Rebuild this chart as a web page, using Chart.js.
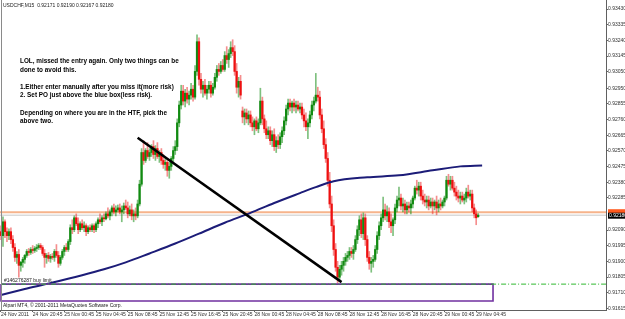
<!DOCTYPE html>
<html>
<head>
<meta charset="utf-8">
<script src="https://cdn.jsdelivr.net/npm/chart.js@4.4.0/dist/chart.umd.min.js"></script>
<style>
  html, body { margin: 0; padding: 0; background: #fff; }
  #chart { display: block; }
</style>
</head>
<body>
<canvas id="chart" width="625" height="319"></canvas>
<script>
// USDCHF M15 candles, one entry per bar
const openPrices = [
  0.92080, 0.92056, 0.92140, 0.92080, 0.92056, 0.92080, 0.92032, 0.91984, 0.91924, 0.91942,
  0.91876, 0.91894, 0.91912, 0.91936, 0.91960, 0.91954, 0.91972, 0.91966, 0.91978, 0.91984,
  0.91996, 0.91984, 0.91948, 0.91924, 0.91936, 0.91918, 0.91930, 0.91924, 0.91960, 0.91936,
  0.91888, 0.91924, 0.91960, 0.91984, 0.91972, 0.92020, 0.92104, 0.92092, 0.92164, 0.92128,
  0.92092, 0.92128, 0.92104, 0.92116, 0.92080, 0.92104, 0.92092, 0.92116, 0.92092, 0.92128,
  0.92152, 0.92140, 0.92164, 0.92158, 0.92188, 0.92176, 0.92200, 0.92224, 0.92200, 0.92212,
  0.92224, 0.92200, 0.92212, 0.92236, 0.92224, 0.92188, 0.92212, 0.92176, 0.92188, 0.92176,
  0.92248, 0.92368, 0.92560, 0.92512, 0.92572, 0.92536, 0.92560, 0.92596, 0.92548, 0.92584,
  0.92536, 0.92560, 0.92512, 0.92488, 0.92500, 0.92452, 0.92476, 0.92524, 0.92572, 0.92596,
  0.92740, 0.92848, 0.92932, 0.92872, 0.92920, 0.92884, 0.92908, 0.92944, 0.92896, 0.93052,
  0.93232, 0.93004, 0.92944, 0.92968, 0.92920, 0.92944, 0.92968, 0.92920, 0.92956, 0.93016,
  0.93064, 0.93052, 0.93088, 0.93064, 0.93148, 0.93124, 0.93160, 0.93196, 0.93172, 0.93052,
  0.92956, 0.92992, 0.92812, 0.92776, 0.92800, 0.92764, 0.92788, 0.92740, 0.92716, 0.92752,
  0.92704, 0.92740, 0.92872, 0.92764, 0.92704, 0.92668, 0.92692, 0.92632, 0.92668, 0.92596,
  0.92632, 0.92608, 0.92656, 0.92692, 0.92752, 0.92824, 0.92860, 0.92836, 0.92860, 0.92836,
  0.92848, 0.92824, 0.92836, 0.92788, 0.92752, 0.92716, 0.92740, 0.92788, 0.92848, 0.92872,
  0.92908, 0.92896, 0.92788, 0.92704, 0.92608, 0.92524, 0.92392, 0.92248, 0.92116, 0.91972,
  0.91864, 0.91804, 0.91852, 0.91876, 0.91900, 0.91924, 0.91936, 0.91960, 0.91948, 0.91972,
  0.92032, 0.92092, 0.92152, 0.92068, 0.92164, 0.92032, 0.91924, 0.91888, 0.91900, 0.91912,
  0.91972, 0.92056, 0.92116, 0.92164, 0.92212, 0.92176, 0.92200, 0.92140, 0.92116, 0.92152,
  0.92224, 0.92272, 0.92284, 0.92236, 0.92248, 0.92212, 0.92236, 0.92224, 0.92248, 0.92284,
  0.92344, 0.92332, 0.92356, 0.92296, 0.92272, 0.92260, 0.92272, 0.92236, 0.92260, 0.92236,
  0.92260, 0.92224, 0.92248, 0.92236, 0.92260, 0.92284, 0.92392, 0.92368, 0.92392, 0.92344,
  0.92320, 0.92296, 0.92284, 0.92296, 0.92272, 0.92284, 0.92320, 0.92296, 0.92308, 0.92224,
  0.92188, 0.92171
];
const highPrices = [
  0.92116, 0.92170, 0.92152, 0.92104, 0.92098, 0.92104, 0.92056, 0.92008, 0.91960, 0.91972,
  0.91900, 0.91924, 0.91942, 0.91972, 0.91978, 0.91984, 0.91996, 0.91990, 0.92002, 0.92008,
  0.92008, 0.91996, 0.91972, 0.91948, 0.91954, 0.91942, 0.91948, 0.91972, 0.92002, 0.91960,
  0.91936, 0.91972, 0.91996, 0.92008, 0.92032, 0.92122, 0.92152, 0.92176, 0.92188, 0.92164,
  0.92140, 0.92152, 0.92140, 0.92128, 0.92116, 0.92122, 0.92128, 0.92128, 0.92140, 0.92164,
  0.92188, 0.92176, 0.92188, 0.92200, 0.92224, 0.92212, 0.92236, 0.92248, 0.92236, 0.92242,
  0.92248, 0.92236, 0.92254, 0.92272, 0.92260, 0.92236, 0.92248, 0.92212, 0.92224, 0.92272,
  0.92392, 0.92584, 0.92632, 0.92584, 0.92620, 0.92584, 0.92608, 0.92632, 0.92602, 0.92620,
  0.92572, 0.92584, 0.92548, 0.92524, 0.92512, 0.92500, 0.92536, 0.92596, 0.92632, 0.92764,
  0.92872, 0.92968, 0.92968, 0.92944, 0.92956, 0.92932, 0.92980, 0.92968, 0.93088, 0.93274,
  0.93256, 0.93040, 0.92992, 0.93004, 0.92968, 0.92992, 0.92992, 0.92980, 0.93040, 0.93088,
  0.93100, 0.93112, 0.93124, 0.93172, 0.93202, 0.93184, 0.93232, 0.93244, 0.93208, 0.93100,
  0.93016, 0.93028, 0.92836, 0.92824, 0.92824, 0.92812, 0.92812, 0.92776, 0.92764, 0.92776,
  0.92764, 0.92950, 0.92896, 0.92788, 0.92752, 0.92716, 0.92716, 0.92692, 0.92704, 0.92656,
  0.92668, 0.92680, 0.92716, 0.92776, 0.92848, 0.92884, 0.92884, 0.92872, 0.92884, 0.92872,
  0.92872, 0.92860, 0.92860, 0.92824, 0.92800, 0.92764, 0.92812, 0.92872, 0.92896, 0.93040,
  0.92956, 0.92932, 0.92824, 0.92752, 0.92644, 0.92560, 0.92440, 0.92296, 0.92152, 0.92008,
  0.91900, 0.91876, 0.91900, 0.91924, 0.91948, 0.91960, 0.91984, 0.91984, 0.91996, 0.92056,
  0.92116, 0.92176, 0.92188, 0.92194, 0.92188, 0.92056, 0.91960, 0.91924, 0.91936, 0.91996,
  0.92080, 0.92140, 0.92188, 0.92290, 0.92248, 0.92236, 0.92224, 0.92188, 0.92164, 0.92248,
  0.92296, 0.92350, 0.92308, 0.92284, 0.92272, 0.92260, 0.92260, 0.92272, 0.92296, 0.92356,
  0.92392, 0.92380, 0.92380, 0.92332, 0.92308, 0.92296, 0.92296, 0.92284, 0.92284, 0.92272,
  0.92296, 0.92272, 0.92284, 0.92272, 0.92296, 0.92416, 0.92428, 0.92416, 0.92416, 0.92380,
  0.92356, 0.92332, 0.92320, 0.92320, 0.92308, 0.92344, 0.92362, 0.92332, 0.92332, 0.92248,
  0.92212, 0.92190
];
const lowPrices = [
  0.92032, 0.91990, 0.92044, 0.92020, 0.92032, 0.92008, 0.91960, 0.91900, 0.91888, 0.91804,
  0.91840, 0.91864, 0.91888, 0.91924, 0.91936, 0.91942, 0.91948, 0.91954, 0.91960, 0.91972,
  0.91972, 0.91936, 0.91864, 0.91888, 0.91900, 0.91894, 0.91912, 0.91900, 0.91924, 0.91864,
  0.91876, 0.91912, 0.91936, 0.91960, 0.91960, 0.92002, 0.92068, 0.92080, 0.92116, 0.92068,
  0.92080, 0.92092, 0.92080, 0.92056, 0.92068, 0.92080, 0.92080, 0.92074, 0.92080, 0.92104,
  0.92128, 0.92116, 0.92140, 0.92152, 0.92164, 0.92152, 0.92176, 0.92188, 0.92176, 0.92200,
  0.92188, 0.92140, 0.92188, 0.92212, 0.92164, 0.92176, 0.92152, 0.92140, 0.92152, 0.92164,
  0.92236, 0.92356, 0.92488, 0.92500, 0.92524, 0.92512, 0.92536, 0.92524, 0.92512, 0.92524,
  0.92500, 0.92488, 0.92464, 0.92452, 0.92416, 0.92404, 0.92452, 0.92500, 0.92548, 0.92572,
  0.92716, 0.92824, 0.92848, 0.92836, 0.92860, 0.92848, 0.92884, 0.92872, 0.92884, 0.93028,
  0.92968, 0.92920, 0.92896, 0.92908, 0.92884, 0.92920, 0.92896, 0.92908, 0.92944, 0.92992,
  0.93028, 0.93040, 0.93052, 0.93052, 0.93100, 0.93076, 0.93136, 0.93148, 0.93028, 0.92920,
  0.92896, 0.92884, 0.92740, 0.92728, 0.92740, 0.92728, 0.92716, 0.92692, 0.92668, 0.92692,
  0.92680, 0.92728, 0.92728, 0.92680, 0.92644, 0.92644, 0.92608, 0.92596, 0.92572, 0.92560,
  0.92584, 0.92584, 0.92620, 0.92668, 0.92728, 0.92788, 0.92812, 0.92800, 0.92812, 0.92800,
  0.92812, 0.92800, 0.92764, 0.92716, 0.92692, 0.92644, 0.92716, 0.92764, 0.92812, 0.92860,
  0.92872, 0.92764, 0.92680, 0.92584, 0.92500, 0.92356, 0.92224, 0.92080, 0.91936, 0.91840,
  0.91768, 0.91780, 0.91816, 0.91840, 0.91876, 0.91900, 0.91912, 0.91924, 0.91912, 0.91960,
  0.92008, 0.92056, 0.92044, 0.92032, 0.91996, 0.91900, 0.91852, 0.91834, 0.91864, 0.91900,
  0.91948, 0.92032, 0.92092, 0.92140, 0.92152, 0.92140, 0.92104, 0.92074, 0.92056, 0.92128,
  0.92200, 0.92236, 0.92212, 0.92200, 0.92188, 0.92188, 0.92200, 0.92188, 0.92224, 0.92272,
  0.92308, 0.92296, 0.92272, 0.92248, 0.92236, 0.92224, 0.92212, 0.92224, 0.92188, 0.92212,
  0.92182, 0.92200, 0.92212, 0.92224, 0.92236, 0.92272, 0.92356, 0.92332, 0.92332, 0.92296,
  0.92272, 0.92260, 0.92248, 0.92260, 0.92248, 0.92260, 0.92284, 0.92272, 0.92200, 0.92164,
  0.92122, 0.92167
];
const closePrices = [
  0.92056, 0.92140, 0.92080, 0.92056, 0.92080, 0.92032, 0.91984, 0.91924, 0.91942, 0.91876,
  0.91894, 0.91912, 0.91936, 0.91960, 0.91954, 0.91972, 0.91966, 0.91978, 0.91984, 0.91996,
  0.91984, 0.91948, 0.91924, 0.91936, 0.91918, 0.91930, 0.91924, 0.91960, 0.91936, 0.91888,
  0.91924, 0.91960, 0.91984, 0.91972, 0.92020, 0.92104, 0.92092, 0.92164, 0.92128, 0.92092,
  0.92128, 0.92104, 0.92116, 0.92080, 0.92104, 0.92092, 0.92116, 0.92092, 0.92128, 0.92152,
  0.92140, 0.92164, 0.92158, 0.92188, 0.92176, 0.92200, 0.92224, 0.92200, 0.92212, 0.92224,
  0.92200, 0.92212, 0.92236, 0.92224, 0.92188, 0.92212, 0.92176, 0.92188, 0.92176, 0.92248,
  0.92368, 0.92560, 0.92512, 0.92572, 0.92536, 0.92560, 0.92596, 0.92548, 0.92584, 0.92536,
  0.92560, 0.92512, 0.92488, 0.92500, 0.92452, 0.92476, 0.92524, 0.92572, 0.92596, 0.92740,
  0.92848, 0.92932, 0.92872, 0.92920, 0.92884, 0.92908, 0.92944, 0.92896, 0.93052, 0.93232,
  0.93004, 0.92944, 0.92968, 0.92920, 0.92944, 0.92968, 0.92920, 0.92956, 0.93016, 0.93064,
  0.93052, 0.93088, 0.93064, 0.93148, 0.93124, 0.93160, 0.93196, 0.93172, 0.93052, 0.92956,
  0.92992, 0.92908, 0.92776, 0.92800, 0.92764, 0.92788, 0.92740, 0.92716, 0.92752, 0.92704,
  0.92740, 0.92872, 0.92764, 0.92704, 0.92668, 0.92692, 0.92632, 0.92668, 0.92596, 0.92632,
  0.92608, 0.92656, 0.92692, 0.92752, 0.92824, 0.92860, 0.92836, 0.92860, 0.92836, 0.92848,
  0.92824, 0.92836, 0.92788, 0.92752, 0.92716, 0.92740, 0.92788, 0.92848, 0.92872, 0.92908,
  0.92896, 0.92788, 0.92704, 0.92608, 0.92524, 0.92392, 0.92248, 0.92116, 0.91972, 0.91864,
  0.91804, 0.91852, 0.91876, 0.91900, 0.91924, 0.91936, 0.91960, 0.91948, 0.91972, 0.92032,
  0.92092, 0.92152, 0.92068, 0.92164, 0.92032, 0.91924, 0.91888, 0.91900, 0.91912, 0.91972,
  0.92056, 0.92116, 0.92164, 0.92212, 0.92176, 0.92200, 0.92140, 0.92116, 0.92152, 0.92224,
  0.92272, 0.92284, 0.92236, 0.92248, 0.92212, 0.92236, 0.92224, 0.92248, 0.92284, 0.92344,
  0.92332, 0.92356, 0.92296, 0.92272, 0.92260, 0.92272, 0.92236, 0.92260, 0.92236, 0.92260,
  0.92224, 0.92248, 0.92236, 0.92260, 0.92284, 0.92392, 0.92368, 0.92392, 0.92344, 0.92320,
  0.92296, 0.92284, 0.92296, 0.92272, 0.92284, 0.92320, 0.92296, 0.92308, 0.92224, 0.92188,
  0.92164, 0.92180
];

// moving average (navy curve), read at a few bars
const maBars = [0, 12, 25, 52, 63, 75, 88, 100, 113, 126, 138, 151, 159, 168, 185, 201, 218, 232, 243];
const maValues = [0.91696, 0.91732, 0.91768, 0.91852, 0.91894, 0.91948, 0.92008, 0.92068, 0.92134, 0.92194,
                  0.92254, 0.92314, 0.92350, 0.92386, 0.92410, 0.92422, 0.92452, 0.92476, 0.92482];

// hand-drawn black trend line
const trendBars = [69, 172];
const trendValues = [0.92650, 0.91774];

// purple box and the pending order
const boxBars = [0, 248.5];
const boxPrices = [0.91762, 0.91660];
const buyLimitPrice = 0.91762;
const bidPrice = 0.92180;
const askPrice = 0.92198;

// axes
const priceTicks = [0.93430, 0.93335, 0.93240, 0.93145, 0.93050, 0.92950, 0.92855, 0.92760, 0.92665, 0.92570,
                    0.92475, 0.92380, 0.92285, 0.92090, 0.91995, 0.91900, 0.91805, 0.91710, 0.91615];
const timeTickBars = [0, 16, 32, 48, 64, 80, 96, 112, 128, 144, 160, 176, 192, 208, 224, 240];
const timeLabels = ["24 Nov 2011", "24 Nov 20:45", "25 Nov 00:45", "25 Nov 04:45", "25 Nov 08:45", "25 Nov 12:45",
                    "25 Nov 16:45", "25 Nov 20:45", "28 Nov 00:45", "28 Nov 04:45", "28 Nov 08:45", "28 Nov 12:45",
                    "28 Nov 16:45", "28 Nov 20:45", "29 Nov 00:45", "29 Nov 04:45"];

const headerText = "USDCHF,M15  0.92171 0.92190 0.92167 0.92180";
const commentLines = [
  "LOL, missed the entry again. Only two things can be",
  "done to avoid this.",
  "",
  "1.Either enter manually after you miss it(more risk)",
  "2. Set PO just above the blue box(less risk).",
  "",
  "Depending on where you are in the HTF, pick the",
  "above two."
];
const orderLabel = "#146276287 buy limit";
const copyrightText = "Alpari MT4, \u00a9 2001-2011 MetaQuotes Software Corp.";

const isUp = i => closePrices[i] >= openPrices[i];
const FONT = "'Liberation Sans', Arial, sans-serif";

const wickData = lowPrices.map((l, i) => ({ x: i, y: [l, highPrices[i]] }));
const bodyData = openPrices.map((o, i) => ({ x: i, y: [o, closePrices[i]] }));
const maData = maBars.map((b, i) => ({ x: b, y: maValues[i] }));
const trendData = trendBars.map((b, i) => ({ x: b, y: trendValues[i] }));
const boxData = [
  { x: boxBars[0], y: boxPrices[0] }, { x: boxBars[1], y: boxPrices[0] },
  { x: boxBars[1], y: boxPrices[1] }, { x: boxBars[0], y: boxPrices[1] },
  { x: boxBars[0], y: boxPrices[0] }
];
const fullLine = v => [{ x: -5, y: v }, { x: 320, y: v }];

// texts and price tags MT4 puts on the chart
const overlayPlugin = {
  id: 'overlay',
  afterDraw(chart) {
    const ctx = chart.ctx;
    const y = chart.scales.y;
    ctx.save();
    ctx.textBaseline = 'middle';
    ctx.textAlign = 'left';

    // left frame line
    ctx.strokeStyle = '#8a8a8a';
    ctx.lineWidth = 1;
    ctx.beginPath();
    ctx.moveTo(1.5, 0);
    ctx.lineTo(1.5, chart.chartArea.bottom);
    ctx.stroke();

    ctx.fillStyle = '#202020';
    ctx.font = '5px ' + FONT;
    ctx.fillText(headerText, 3, 5.5);
    ctx.fillText(orderLabel, 4, 281);
    ctx.fillText(copyrightText, 3, 306);

    ctx.fillStyle = '#000';
    ctx.font = 'bold 7.5px ' + FONT;
    commentLines.forEach((line, k) => {
      if (!line) return;
      const w = ctx.measureText(line).width;
      ctx.fillText(line, 20, 61 + k * 8.6, w * 0.85);
    });

    // ask / bid tags on the price axis
    const x0 = chart.chartArea.right + 2;
    const ay = y.getPixelForValue(askPrice);
    ctx.fillStyle = '#ff5a1e';
    ctx.fillRect(x0, ay - 3, 20, 5);
    const by = y.getPixelForValue(bidPrice);
    ctx.fillStyle = '#000';
    ctx.fillRect(x0, by - 2.5, 20, 6);
    ctx.fillStyle = '#fff';
    ctx.font = '5px ' + FONT;
    ctx.fillText(bidPrice.toFixed(5), x0 + 1, by + 0.5);
    ctx.restore();
  }
};

new Chart(document.getElementById('chart').getContext('2d'), {
  type: 'bar',
  data: {
    datasets: [
      {
        label: 'ask', type: 'line', data: fullLine(askPrice), order: 12,
        borderColor: 'rgba(244,160,110,0.8)', borderWidth: 2, pointRadius: 0
      },
      {
        label: 'bid', type: 'line', data: fullLine(bidPrice), order: 11,
        borderColor: '#c8c8c8', borderWidth: 1, pointRadius: 0
      },
      {
        label: 'wicks', data: wickData, order: 10, grouped: false, barThickness: 1,
        backgroundColor: c => isUp(c.dataIndex) ? 'rgba(20,140,20,0.55)' : 'rgba(235,30,30,0.5)'
      },
      {
        label: 'bodies', data: bodyData, order: 9, grouped: false, barThickness: 1.6, minBarLength: 1,
        backgroundColor: c => isUp(c.dataIndex) ? '#118a11' : '#ee1010'
      },
      {
        label: 'MA', type: 'line', data: maData, order: 5,
        borderColor: '#1c1c78', borderWidth: 2, pointRadius: 0, cubicInterpolationMode: 'monotone'
      },
      {
        label: 'trend', type: 'line', data: trendData, order: 4,
        borderColor: '#000', borderWidth: 2.5, pointRadius: 0
      },
      {
        label: 'box', type: 'line', data: boxData, order: 3,
        borderColor: '#7030a0', borderWidth: 1.6, pointRadius: 0
      },
      {
        label: 'buy limit', type: 'line', data: fullLine(buyLimitPrice), order: 2,
        borderColor: '#2fb82f', borderWidth: 1, borderDash: [5, 2, 1, 2], pointRadius: 0
      }
    ]
  },
  options: {
    responsive: false,
    animation: false,
    devicePixelRatio: 1,
    layout: { padding: 0 },
    plugins: { legend: { display: false }, tooltip: { enabled: false } },
    scales: {
      x: {
        type: 'linear', min: -0.505, max: 305.56, offset: false,
        afterBuildTicks: s => { s.ticks = timeTickBars.map(v => ({ value: v })); },
        afterFit: s => { s.height = 9; s.paddingLeft = 0; s.paddingRight = 0; },
        border: { color: '#606060', width: 1 },
        grid: { drawOnChartArea: false, tickLength: 2, color: '#606060', offset: false },
        ticks: {
          autoSkip: false, maxRotation: 0, align: 'start', padding: 0,
          color: '#303030', font: { size: 5, family: FONT },
          callback: (v, i) => timeLabels[i]
        }
      },
      y: {
        position: 'right', min: 0.91605, max: 0.93485, beginAtZero: false,
        afterBuildTicks: s => { s.ticks = priceTicks.map(v => ({ value: v })); },
        afterFit: s => { s.width = 19; s.paddingTop = 0; s.paddingBottom = 0; },
        border: { color: '#606060', width: 1 },
        grid: { drawOnChartArea: false, tickLength: 2, color: '#606060' },
        ticks: {
          padding: 0, color: '#303030', font: { size: 5, family: FONT },
          callback: v => v.toFixed(5)
        }
      }
    }
  },
  plugins: [overlayPlugin]
});
</script>
</body>
</html>
